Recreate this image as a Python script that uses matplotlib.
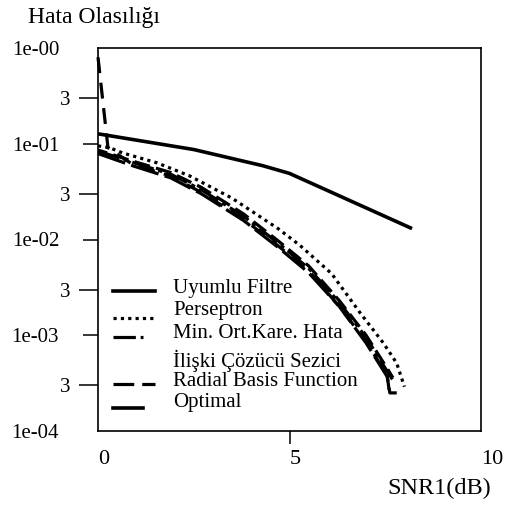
import numpy as np
import matplotlib
matplotlib.use("Agg")
import matplotlib.pyplot as plt
from matplotlib.lines import Line2D

plt.rcParams['font.family'] = ['Liberation Serif', 'DejaVu Serif']

# veriler
x_uyumlu = [0, 2.5, 4.3, 5.0, 8.2]
y_uyumlu = [0.127, 0.087, 0.059, 0.049, 0.013]

x_persep = [0, 0.3, 0.65, 1.55, 2.4, 3.5, 4.7, 5.27, 6.1, 6.85, 7.45, 7.8, 8.0]
y_persep = [0.095, 0.091, 0.080, 0.063, 0.046, 0.027, 0.013, 0.0087, 0.0044, 0.0017, 0.00083, 0.00051, 0.00029]

x_mok = [0, 0.9, 1.9, 2.7, 3.8, 4.7, 5.5, 6.3, 7.0, 7.55, 7.7]
y_mok = [0.084, 0.064, 0.048, 0.033, 0.0175, 0.0092, 0.0050, 0.0022, 0.00095, 0.00042, 0.00034]

x_iliski = [0, 0.9, 1.9, 2.7, 3.8, 4.7, 5.5, 6.3, 7.0, 7.55, 7.7]
y_iliski = [0.086, 0.066, 0.050, 0.035, 0.0185, 0.0097, 0.0053, 0.0023, 0.0010, 0.00045, 0.00036]

x_rbf = [0, 0.26, 0.9, 1.9, 2.7, 3.8, 4.7, 5.5, 6.3, 7.0, 7.55, 7.6]
y_rbf = [0.80, 0.091, 0.061, 0.046, 0.031, 0.0163, 0.0086, 0.0047, 0.0020, 0.00086, 0.00038, 0.00027]

x_opt = [0, 0.9, 1.9, 2.7, 3.8, 4.7, 5.5, 6.3, 7.0, 7.55, 7.62, 7.8]
y_opt = [0.079, 0.059, 0.044, 0.030, 0.0158, 0.0083, 0.0045, 0.0020, 0.00083, 0.00037, 0.00025, 0.00025]

etiketler = ["Uyumlu Filtre", "Perseptron", "Min. Ort.Kare. Hata",
             "İlişki Çözücü Sezici", "Radial Basis Function", "Optimal"]

y_major = [1e-4, 1e-3, 1e-2, 1e-1, 1]
y_major_lbl = ["1e-04", "1e-03", "1e-02", "1e-01", "1e-00"]
y_minor = [3e-4, 3e-3, 3e-2, 3e-1]
x_ticks = [0, 5, 10]

W, H = 513, 505
fig = plt.figure(figsize=(W / 100, H / 100), dpi=100)
ax = fig.add_axes([98 / W, 1 - 431 / H, 383 / W, 383 / H])

lw = 2.3
ax.plot(x_uyumlu, y_uyumlu, color='k', lw=2.6, solid_capstyle='butt')
ax.plot(x_persep, y_persep, color='k', lw=lw, linestyle=(0, (1, 1.3)))
ax.plot(x_mok, y_mok, color='k', lw=lw, linestyle=(0, (7, 1.5, 1.3, 1.5)))
ax.plot(x_iliski, y_iliski, color='k', lw=lw, linestyle=(2, (5, 2)))
ax.plot(x_rbf, y_rbf, color='k', lw=lw, linestyle=(0, (5, 3)), clip_on=False)
ax.plot(x_opt, y_opt, color='k', lw=lw, linestyle=(0, (9, 2)))

ax.set_yscale('log')
ax.set_xlim(0, 10)
ax.set_ylim(1e-4, 1)
ax.set_yticks(y_major, y_major_lbl)
ax.set_yticks(y_minor, ["3"] * len(y_minor), minor=True)
ax.set_xticks(x_ticks, [str(v) for v in x_ticks])

ax.tick_params(axis='y', which='major', direction='out', length=11, width=1.1, pad=17, labelsize=15)
ax.tick_params(axis='y', which='minor', direction='out', length=14, width=1.1, pad=6, labelsize=15)
ax.tick_params(axis='x', direction='out', length=9.5, width=1.1, pad=4, labelsize=16)
for t, loc in zip(ax.yaxis.get_major_ticks(), y_major):
    if loc in (1e-4, 1):
        t.tick1line.set_visible(False)
for t, loc in zip(ax.xaxis.get_major_ticks(), x_ticks):
    if loc != 5:
        t.tick1line.set_visible(False)
for lab in ax.get_xticklabels():
    lab.set_ha('left')
for s in ax.spines.values():
    s.set_linewidth(1.2)

# el ile lejant
def px(x, y):
    return x / W, 1 - y / H

stiller = [
    dict(lw=2.6, linestyle='-'),
    dict(lw=lw, linestyle=(0, (1, 1.3))),
    dict(lw=lw, linestyle=(0, (7, 1.5, 1.3, 1.5))),
    None,
    dict(lw=lw, linestyle=(0, (6.5, 2.5))),
    dict(lw=2.6, linestyle='-'),
]
cizgi_y = [291, 318, 337, None, 384, 408]
cizgi_son = [155, 155, 143, None, 155, 143]
yazi_y = [288, 310, 334, 361, 381, 403]
for lbl, st, cy, cs, ty in zip(etiketler, stiller, cizgi_y, cizgi_son, yazi_y):
    if st is not None:
        (x0, y0), (x1, y1) = px(113, cy), px(cs, cy)
        fig.add_artist(Line2D([x0, x1], [y0, y1], color='k', transform=fig.transFigure, **st))
    fig.text(*px(173, ty), lbl, fontsize=15, va='center', ha='left')

fig.text(*px(28, 17), "Hata Olasılığı", fontsize=17, va='center', ha='left')
fig.text(*px(387, 488), "SNR1(dB)", fontsize=17.5, va='center', ha='left')

fig.savefig("out.png", dpi=100)
